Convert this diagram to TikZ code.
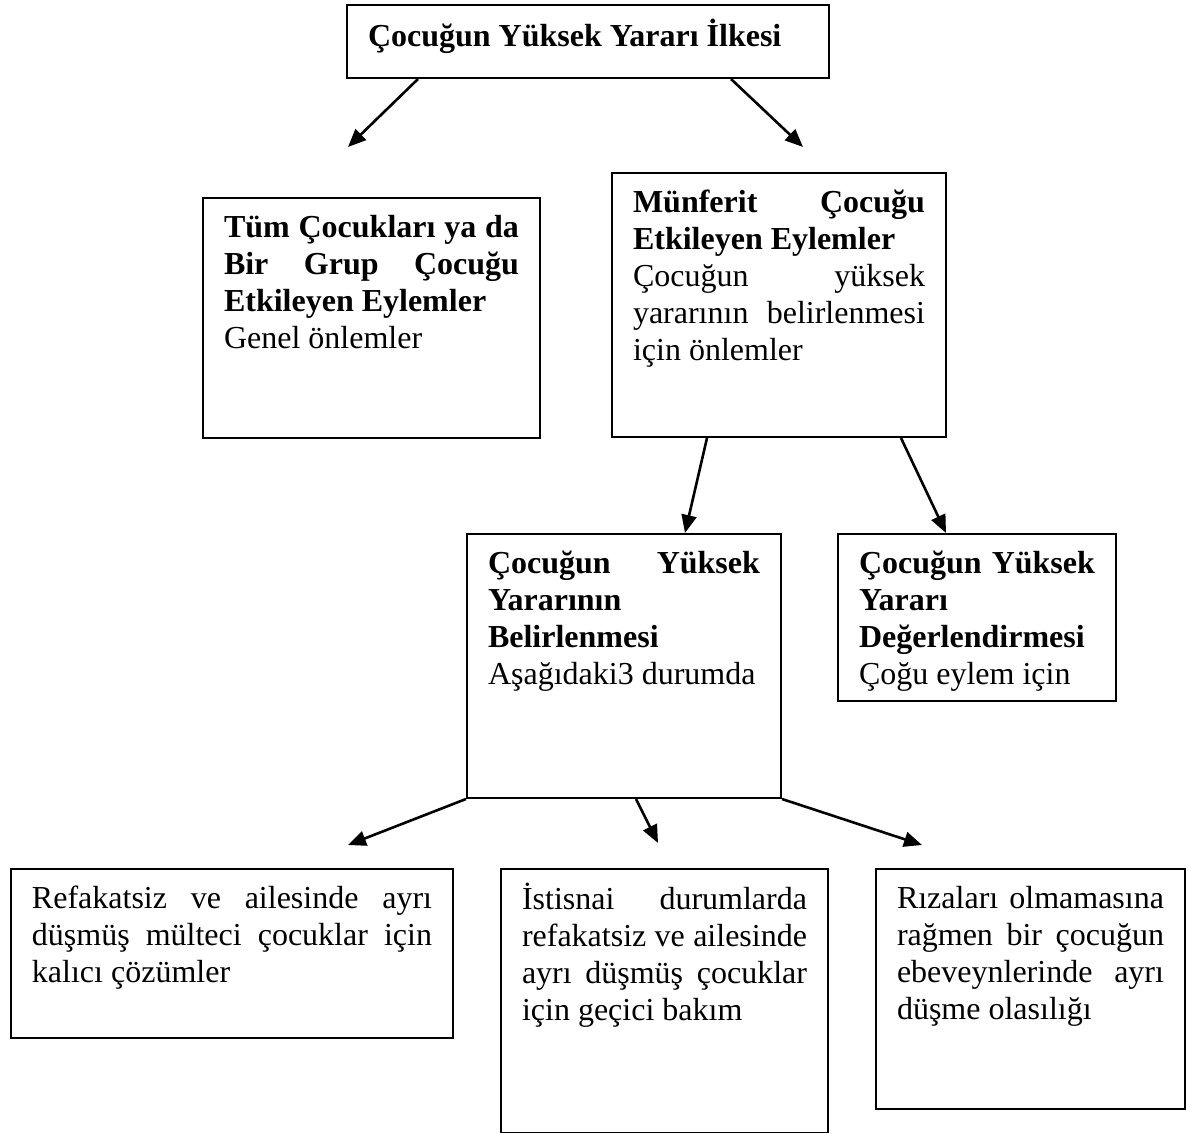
\documentclass[tikz,border=0pt]{standalone}
\usepackage{fontspec}
\setmainfont{Liberation Serif}
\usetikzlibrary{arrows.meta}
\tikzset{
  kutu/.style={draw, line width=1pt, anchor=north west, inner xsep=10.5pt, inner ysep=7pt},
  ok/.style={line width=1.3pt, -{Triangle[length=9pt,width=7.5pt]}},
}
\newcommand{\tam}[1]{\makebox[\linewidth][s]{#1}\par}
\newcommand{\icerik}[3]{\parbox[t][\dimexpr(#2pt-28pt)/2\relax][t]{\dimexpr(#1pt-42pt)/2\relax}{\strut#3}}

\begin{document}
\begin{tikzpicture}[x=0.5pt, y=-0.5pt, font=\fontsize{16}{18.5}\selectfont]
\useasboundingbox (0,0) rectangle (1189,1133);
\node[kutu] (ilke) at (346,4) {\icerik{482}{73}{\textbf{Çocuğun Yüksek Yararı İlkesi}}};
\node[kutu] (tum) at (202,197) {\icerik{337}{240}{\bfseries\tam{Tüm Çocukları ya da}\tam{Bir Grup Çocuğu}Etkileyen Eylemler\par\mdseries Genel önlemler}};
\node[kutu] (munferit) at (611,172) {\icerik{334}{264}{\bfseries\tam{Münferit Çocuğu}Etkileyen Eylemler\par\mdseries\tam{Çocuğun yüksek}\tam{yararının belirlenmesi}için önlemler}};
\node[kutu] (belirleme) at (466,533) {\icerik{314}{264}{\bfseries\tam{Çocuğun Yüksek}Yararının\par Belirlenmesi\par\mdseries Aşağıdaki3 durumda}};
\node[kutu] (degerlendirme) at (837,533) {\icerik{278}{167}{\bfseries\tam{Çocuğun Yüksek}Yararı\par Değerlendirmesi\par\mdseries Çoğu eylem için}};
\node[kutu] (kalici) at (10,868) {\icerik{442}{169}{\tam{Refakatsiz ve ailesinde ayrı}\tam{düşmüş mülteci çocuklar için}kalıcı çözümler}};
\node[kutu] (gecici) at (500,868) {\icerik{327}{264}{\tam{İstisnai durumlarda}\tam{refakatsiz ve ailesinde}\tam{ayrı düşmüş çocuklar}için geçici bakım}};
\node[kutu] (ayrilma) at (875,868) {\icerik{309}{240}{\tam{Rızaları olmamasına}\tam{rağmen bir çocuğun}\tam{ebeveynlerinde ayrı}düşme olasılığı}};
\coordinate (uc1) at (348,147);
\coordinate (uc2) at (803,147);
\coordinate (uc5) at (348,845);
\coordinate (uc6) at (658,843);
\coordinate (uc7) at (922,845);
\draw[ok] ([xshift=36pt]ilke.south west) -- (uc1);
\draw[ok] ([xshift=192.5pt]ilke.south west) -- (uc2);
\draw[ok] ([xshift=48pt]munferit.south west) -- ([xshift=109.5pt]belirleme.north west);
\draw[ok] ([xshift=145pt]munferit.south west) -- ([xshift=54.5pt]degerlendirme.north west);
\draw[ok] (belirleme.south west) -- (uc5);
\draw[ok] ([xshift=85pt]belirleme.south west) -- (uc6);
\draw[ok] (belirleme.south east) -- (uc7);
\end{tikzpicture}
\end{document}
